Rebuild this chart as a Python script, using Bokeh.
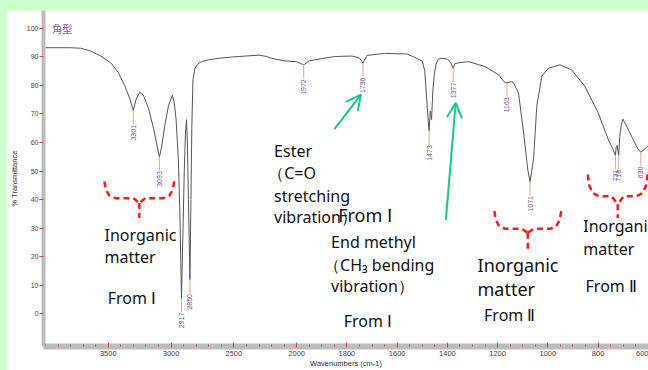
import numpy as np
from bokeh.plotting import figure
from bokeh.models import Range1d, FixedTicker, Label, Arrow, OpenHead
from bokeh.core.properties import value
from bokeh.embed import file_html
from bokeh.resources import INLINE

# ---------------- data ----------------
wavenumber = [4000, 3800, 3720, 3650, 3560, 3480, 3420, 3370, 3330, 3301, 3280, 3250,
              3220, 3180, 3140, 3110, 3093, 3075, 3050, 3020, 2990, 2975, 2960, 2942,
              2930, 2917, 2905, 2895, 2885, 2877, 2870, 2862, 2850, 2842, 2835, 2826,
              2810, 2780, 2750, 2700, 2600, 2500, 2400, 2300, 2250, 2200, 2100, 2000,
              1972, 1950, 1900, 1850, 1780, 1750, 1736, 1720, 1650, 1560, 1530, 1500,
              1490, 1480, 1473, 1468, 1463, 1458, 1452, 1445, 1435, 1420, 1400, 1388,
              1377, 1370, 1350, 1315, 1250, 1196, 1175, 1163, 1140, 1117, 1097, 1080,
              1071, 1057, 1044, 1024, 998, 952, 906, 853, 800, 760, 740, 731, 728,
              724, 721, 718, 714, 708, 701, 687, 661, 642, 630, 613, 600]
transmittance = [93.2, 93.2, 93.0, 92.2, 90.3, 87.9, 84.5, 80.0, 75.5, 71.2, 75.0, 77.6,
                 76.5, 72.0, 65.0, 58.5, 55.0, 58.5, 66.0, 73.0, 76.6, 74.0, 68.0, 54.0,
                 35.0, 5.5, 30.0, 50.0, 64.0, 68.0, 60.0, 40.0, 12.0, 40.0, 65.0, 82.0,
                 86.0, 87.8, 88.4, 89.0, 89.6, 90.0, 90.3, 90.6, 90.2, 89.5, 88.6, 88.3,
                 87.2, 88.6, 89.4, 90.1, 90.3, 89.6, 87.8, 90.5, 91.2, 91.0, 89.8, 88.5,
                 85.0, 72.0, 64.1, 71.0, 68.0, 78.0, 84.0, 87.5, 89.3, 89.5, 89.2, 88.2,
                 86.0, 87.6, 88.0, 88.3, 86.6, 83.7, 81.3, 80.9, 81.4, 77.4, 63.7, 50.5,
                 46.3, 54.3, 72.8, 83.2, 86.0, 87.2, 85.5, 79.7, 70.5, 61.2, 57.5, 55.5,
                 58.5, 59.0, 57.0, 55.5, 62.0, 66.0, 68.2, 65.8, 61.2, 57.8, 56.6, 57.8, 59.0]

peak_wavenumbers = [3301, 3093, 2917, 2850, 1972, 1736, 1473, 1377, 1163, 1071, 731, 718, 630]

x_major_wavenumbers = [3500, 3000, 2500, 2000, 1800, 1600, 1400, 1200, 1000, 800, 600]
x_tick_labels = ["3500", "3000", "2500", "2000", "1800", "1600", "1400", "1200", "1000", "800", "600"]
y_ticks = [0, 10, 20, 30, 40, 50, 60, 70, 80, 90, 100]
y_tick_labels = ["0", "10", "20", "30", "40", "50", "60", "70", "80", "90", "100"]

# annotation texts: (text, wavenumber, %T, font size px)
notes = [
    ("Inorganic", 3530, 27.5, 16), ("matter", 3530, 20.0, 16), ("From \u2160", 3505, 5.5, 16),
    ("Ester", 2180, 56.9, 16), ("\uff08C=O", 2227, 49.2, 16), ("stretching", 2180, 41.3, 16),
    ("vibration\uff09", 2180, 33.9, 16), ("From \u2160", 1835, 34.7, 18),
    ("End methyl", 1863, 25.3, 16), ("\uff08CH\u2083 bending", 1891, 17.1, 16),
    ("vibration\uff09", 1863, 9.7, 16), ("From \u2160", 1813, -2.4, 16),
    ("Inorganic", 1280, 17.0, 18), ("matter", 1280, 8.75, 18), ("From \u2161", 1254, -0.35, 16),
    ("Inorganic", 859, 30.7, 16), ("matter", 859, 22.8, 16), ("From \u2161", 850, 9.7, 16),
]

# brackets: (center wavenumber, top %T, half width px, depth px, meet px, stem px)
brackets = [(3253, 46.4, 35, 17, 22, 37), (1080, 36.0, 33.5, 18, 22, 39), (722, 48.8, 30, 22, 30, 44)]
# arrows: (tail wavenumber, tail %T, tip wavenumber, tip %T)
arrows = [(1850, 64.7, 1744, 76.8), (1406, 32.9, 1367, 73.9)]

# ---------------- scale (axis is expanded 2x below 2000 cm-1) ----------------
def to_u(w):
    w = np.asarray(w, dtype=float)
    return np.where(w >= 2000, 4000 - w, 2000 + 2 * (2000 - w))

PX_U = 0.1258   # px per axis unit
PX_T = 2.89     # px per %T

x_start = -2 / PX_U
x_end = x_start + 606 / PX_U
y_end = (317 - 10) / PX_T
y_start = -(350 - 317) / PX_T

p = figure(width=642, height=360, output_backend="svg", toolbar_location=None,
           x_range=Range1d(x_start, x_end), y_range=Range1d(y_start, y_end),
           min_border_left=36, min_border_right=0, min_border_top=0, min_border_bottom=0)
p.margin = (10, 0, 0, 6)
p.outline_line_color = None
p.grid.visible = False
p.background_fill_color = "white"
p.border_fill_color = "white"

RED = "#e03c3c"
GREY_BAR = "#bcbcbc"

xa = p.xaxis[0]
u_major = [int(v) for v in to_u(x_major_wavenumbers)]
xa.ticker = FixedTicker(ticks=u_major, minor_ticks=list(range(0, 4801, 100)))
xa.major_label_overrides = {u: lbl for u, lbl in zip(u_major, x_tick_labels)}
xa.axis_line_color = GREY_BAR
xa.axis_line_width = 6
xa.major_tick_line_color = RED
xa.minor_tick_line_color = RED
xa.major_tick_in = 4
xa.major_tick_out = 1
xa.minor_tick_in = 2
xa.minor_tick_out = 0
xa.major_label_standoff = 3
xa.major_label_text_font = "Liberation Sans"
xa.major_label_text_font_size = "7.5px"
xa.major_label_text_color = "#444444"
xa.axis_label = "Wavenumbers (cm-1)"
xa.axis_label_text_font = "Liberation Sans"
xa.axis_label_text_font_size = "7.5px"
xa.axis_label_text_font_style = "normal"
xa.axis_label_text_color = "#333333"
xa.axis_label_standoff = 0

ya = p.yaxis[0]
ya.ticker = FixedTicker(ticks=y_ticks, minor_ticks=[])
ya.major_label_overrides = {t: l for t, l in zip(y_ticks, y_tick_labels)}
ya.axis_line_color = GREY_BAR
ya.axis_line_width = 4
ya.major_tick_line_color = RED
ya.major_tick_in = 0
ya.major_tick_out = 4
ya.major_label_standoff = 1
ya.major_label_text_font = "Liberation Sans"
ya.major_label_text_font_size = "7px"
ya.major_label_text_color = "#444444"
ya.axis_label = "% Transmittance"
ya.axis_label_text_font = "Liberation Sans"
ya.axis_label_text_font_size = "7.5px"
ya.axis_label_text_font_style = "normal"
ya.axis_label_text_color = "#333333"
ya.axis_label_standoff = 5

# spectrum
u_spec = to_u(wavenumber)
p.line(u_spec, transmittance, line_color="#555555", line_width=1)

# peak markers
order = np.argsort(u_spec)
u_peaks = to_u(peak_wavenumbers)
t_peaks = np.interp(u_peaks, u_spec[order], np.asarray(transmittance)[order])
tick_len = 14 / PX_T
p.segment(x0=u_peaks, y0=t_peaks, x1=u_peaks, y1=t_peaks - tick_len,
          line_color="#e8a088", line_width=1)
p.text(x=u_peaks, y=t_peaks - tick_len - 0.2, text=[str(w) for w in peak_wavenumbers],
       angle=np.pi / 2, text_align="right", text_baseline="middle",
       text_font=value("Liberation Sans"), text_font_size="7px", text_color="#6b55a0")

# title-like label
p.add_layout(Label(x=float(to_u(3947)), y=100, text="\u89d2\u578b", text_baseline="middle",
                   text_font="Noto Sans CJK JP", text_font_size="10px", text_color="#7c5ca4"))

# red dashed brackets
xs, ys = [], []
for cw, top, hw, dep, meet, stem in brackets:
    cu = float(to_u(cw))
    left = [(-hw, 0), (-hw + 1.5, dep * 0.5), (-hw + 5, dep * 0.85), (-hw + 11, dep), (-6, dep), (0, meet)]
    right = [(-dx, dy) for dx, dy in left]
    for seg in (left, right, [(0, meet), (0, stem)]):
        xs.append([cu + dx / PX_U for dx, dy in seg])
        ys.append([top - dy / PX_T for dx, dy in seg])
p.multi_line(xs, ys, line_color="#ff1a1a", line_width=2.5, line_dash="6 4")

# green arrows
GREEN = "#14c98e"
for w0, t0, w1, t1 in arrows:
    p.add_layout(Arrow(x_start=float(to_u(w0)), y_start=t0, x_end=float(to_u(w1)), y_end=t1,
                       line_color=GREEN, line_width=2,
                       end=OpenHead(size=15, line_color=GREEN, line_width=2)))

# text notes
for txt, w, t, fs in notes:
    p.add_layout(Label(x=float(to_u(w)), y=t, text=txt, text_baseline="middle",
                       text_font="Noto Sans", text_font_size=f"{fs}px", text_color="#111111"))

html = file_html(p, INLINE)
head, sep, tail = html.rpartition("</head>")
if sep:
    html = head + "<style>html, body { background-color: #ccffcc !important; }</style>" + sep + tail
open("out.html", "w").write(html)
